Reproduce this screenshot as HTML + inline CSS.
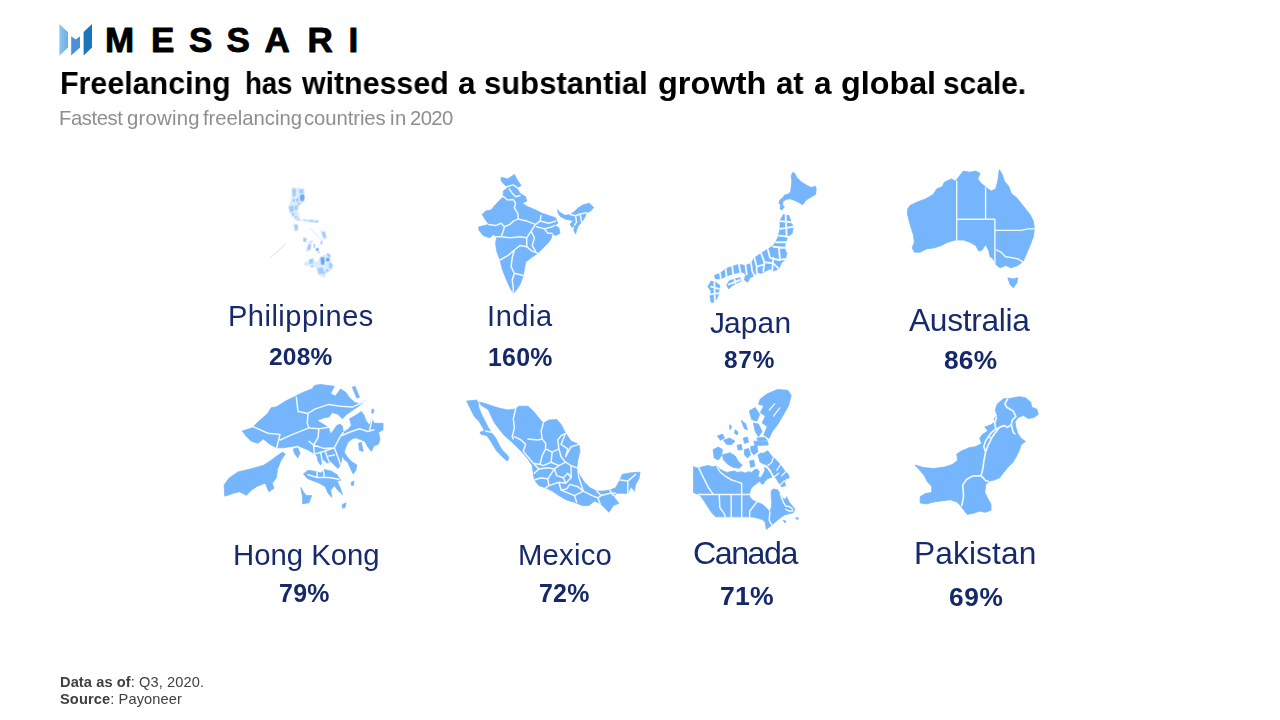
<!DOCTYPE html>
<html><head><meta charset="utf-8"><title>Messari</title>
<style>
html,body{margin:0;padding:0;background:#fff;}
body{width:1280px;height:720px;position:relative;overflow:hidden;font-family:"Liberation Sans",sans-serif;}
.t{position:absolute;white-space:nowrap;line-height:1;margin:0;transform-origin:0 0;will-change:transform;}
.h1{left:61px;top:67px;font-size:31px;font-weight:bold;color:#000;}
.sub{left:60px;top:108px;font-size:19px;color:#8e8e8e;}
.c{color:#172b6c;font-size:29px;}
.p{color:#14286a;font-size:24px;font-weight:bold;}
.f{color:#404040;font-size:14.5px;}
svg{position:absolute;left:0;top:0;}
.wrap{margin:0;padding:0;font-size:0;line-height:0;font-weight:normal;}
</style></head><body>
<svg width="1280" height="720" viewBox="0 0 1280 720">
<defs>
<linearGradient id="g1" x1="0" y1="0" x2="1" y2="0"><stop offset="0" stop-color="#8ec6ee"/><stop offset="1" stop-color="#6aaee2"/></linearGradient>
</defs>
<polygon points="59.4,23.9 68,32.2 68,47.6 59.4,55.8" fill="url(#g1)"/>
<polygon points="71.2,36.3 75.7,39.6 80,36.3 80,47.6 71.2,55.6" fill="#4a90d6"/>
<polygon points="83.6,32 92,23.9 92,47.6 83.6,55.6" fill="#1c75bc"/>
<g font-family="Liberation Sans, sans-serif" font-weight="bold" font-size="35" fill="#000" stroke="#000" stroke-width="0.9" stroke-linejoin="round">
<text id="lM" x="105" y="52">M</text>
<text id="lE" x="151" y="52">E</text>
<text id="lS1" x="189" y="52">S</text>
<text id="lS2" x="226.5" y="52">S</text>
<text id="lA" x="264.5" y="52">A</text>
<text id="lR" x="307.5" y="52">R</text>
<text id="lI" x="348.5" y="52">I</text>
</g>
<path class="india" d="M501.1 177.3L507.8 178.9L514.4 174.4L517.3 180.0L521.1 185.6L516.7 187.8L520.0 193.3L525.6 196.7L526.7 201.1L522.2 203.3L527.8 206.7L535.6 210.0L542.2 213.3L548.9 215.6L555.6 217.8L557.8 223.3L554.4 225.6L558.9 227.8L560.0 233.3L555.6 235.6L552.2 233.3L551.1 238.9L547.8 243.3L543.3 247.8L537.8 253.3L531.1 257.8L525.6 262.2L524.4 268.9L523.3 275.6L520.0 284.4L515.6 291.1L513.3 293.3L510.0 287.8L505.6 277.8L502.2 268.9L500.0 260.0L496.7 251.1L495.6 243.3L496.7 236.7L493.3 234.4L490.0 237.8L483.3 235.6L478.9 230.0L478.9 226.7L484.4 225.6L488.9 224.4L485.6 220.0L482.2 214.4L485.6 211.1L491.1 210.0L495.6 204.4L500.0 200.0L503.3 196.7L503.3 191.1L507.8 187.8L504.4 184.4L501.1 181.1Z M557.6 209.5L559.4 212.2L564.8 215.3L570.2 214.6L574.7 211.3L578.3 207.7L582.8 205.0L589.2 203.2L593.7 207.4L590.6 211.0L586.5 212.8L584.7 217.7L581.6 222.2L578.3 225.8L576.5 230.3L575.6 233.9L573.8 230.3L574.7 224.9L572.0 227.6L570.2 224.3L573.3 220.4L569.3 220.0L564.8 218.9L560.3 216.4L558.1 213.1Z" fill="#74b5fb" stroke="#74b5fb" stroke-width="0.8" stroke-linejoin="round" opacity="1"/>
<path d="M506.7 186.7L513.3 184.9L518.2 188.4 M509.3 188.9L512.2 193.3L515.6 196.7L520.0 195.6 M503.3 196.7L507.8 200.0L513.3 199.6L515.6 203.3L514.4 207.8L517.8 213.3L518.2 218.9L513.3 221.1L510.0 224.4L504.4 226.7L503.3 231.1 M518.2 218.9L526.7 221.1L535.6 224.4L540.0 221.1L541.1 215.6 M488.9 224.4L495.6 225.6L501.1 223.3L504.4 226.7 M503.3 231.1L501.1 236.7L511.1 237.8L520.0 236.7L526.7 237.8L531.1 231.1L535.6 224.4 M500.0 260.0L507.8 255.6L514.4 250.0L520.0 245.6L526.7 246.7L526.7 237.8 M531.1 231.1L534.4 237.8L532.2 245.6L535.6 251.1 M540.0 221.1L548.9 223.3L555.6 221.1 M536.7 226.7L544.4 228.9L552.2 226.7L554.4 225.6 M544.4 228.9L547.8 233.3L552.2 233.3 M526.7 246.7L532.2 251.1L537.8 253.3 M514.4 250.0L512.2 257.8L511.1 266.7L514.4 273.3L523.3 275.6 M514.4 273.3L512.2 280.0L513.3 287.8L513.3 293.3 M501.1 236.7L496.7 236.7 M570.2 214.6L575.6 215.8L580.1 214.0L586.5 212.8 M575.6 215.8L576.5 222.2L574.7 224.9 M580.1 214.0L581.6 222.2" fill="none" stroke="#f1f8ff" stroke-width="1.5" stroke-linejoin="round" stroke-linecap="round"/>
<path class="japan" d="M783.3 214.4L788.9 215.6L791.1 222.2L793.3 226.7L792.2 233.3L787.8 236.7L785.6 242.2L784.4 247.8L786.7 253.3L785.6 258.9L781.1 263.3L778.9 268.9L773.3 271.1L770.0 268.9L765.6 271.1L761.1 273.3L756.7 272.2L754.4 275.6L750.0 277.8L747.8 282.2L744.4 280.0L745.6 274.4L742.7 272.2L736.0 273.1L730.4 274.7L725.6 276.4L721.1 278.7L715.6 278.9L714.4 275.6L720.0 273.3L725.6 268.9L732.2 266.2L738.9 264.4L745.6 265.6L751.1 263.3L754.4 257.8L761.1 253.3L767.8 248.9L773.3 245.6L777.8 237.8L780.0 228.9L780.0 221.1Z M728.9 281.1L734.4 278.9L740.0 277.8L741.1 281.1L736.7 283.3L732.2 285.6L728.9 288.9L726.7 285.6Z M711.1 281.1L715.6 282.2L720.0 285.6L718.9 291.1L717.8 296.7L714.4 302.2L711.1 302.2L710.0 296.7L711.1 291.1L707.8 286.7Z" fill="#74b5fb" stroke="#74b5fb" stroke-width="0.8" stroke-linejoin="round" opacity="1"/>
<path d="M780.0 221.1L791.1 222.2 M780.0 228.9L793.3 226.7 M778.9 235.6L788.9 236.7 M785.6 214.4L786.7 236.7 M775.6 242.2L785.6 242.2 M773.3 246.7L784.4 247.8 M767.8 248.9L770.0 257.8L778.9 260.0L785.6 258.9 M778.9 247.8L780.0 260.0 M761.1 253.3L764.4 262.2L763.3 271.1 M764.4 262.2L773.3 263.3L778.9 268.9 M773.3 257.8L772.2 271.1 M754.4 257.8L756.7 266.7L756.7 272.2 M756.7 266.7L764.4 264.4 M751.1 263.3L752.2 271.1L754.4 275.6 M745.6 265.6L746.7 274.4 M738.9 264.4L740.7 273.8 M732.2 266.2L733.3 276.7 M725.6 268.9L726.7 277.8 M720.0 273.3L721.1 280.0 M734.4 278.9L735.6 283.8 M728.9 284.4L740.0 280.0 M711.1 286.7L718.9 288.9 M710.4 294.4L718.4 293.3 M714.4 282.2L714.9 302.2" fill="none" stroke="#f1f8ff" stroke-width="1.9" stroke-linejoin="round" stroke-linecap="round"/>
<path class="australia" d="M907.8 208.9L910.0 205.6L916.7 202.2L925.6 198.9L933.3 194.4L936.7 188.9L942.2 186.7L944.4 182.2L951.1 178.9L955.6 181.1L958.9 176.7L963.3 171.1L970.0 172.2L975.6 171.1L980.0 173.3L977.8 178.9L981.1 183.3L986.7 187.8L991.1 191.1L995.6 188.9L997.8 181.1L999.3 169.6L1002.2 174.4L1004.4 181.1L1008.9 186.7L1011.1 193.3L1016.7 197.8L1021.1 203.3L1025.6 208.9L1030.0 214.4L1033.3 221.1L1034.4 228.9L1033.3 236.7L1030.0 245.6L1026.7 253.3L1023.3 261.1L1017.8 265.6L1011.1 267.8L1005.6 265.6L1000.0 267.8L995.6 264.4L993.3 258.9L990.0 256.7L988.9 251.1L985.6 244.4L982.2 250.0L978.9 251.1L975.6 245.6L970.0 242.2L963.3 240.0L955.6 240.0L947.8 242.2L941.1 245.6L934.4 247.8L926.7 248.9L920.0 252.2L914.4 252.2L912.2 247.8L914.4 242.2L913.3 234.4L911.1 227.8L908.9 220.0L907.3 213.3Z M1007.8 277.8L1013.3 278.9L1017.8 277.8L1016.7 283.3L1013.3 287.8L1010.0 284.4Z" fill="#74b5fb" stroke="#74b5fb" stroke-width="0.8" stroke-linejoin="round" opacity="1"/>
<path d="M956.7 181.1L956.7 240.0 M956.7 219.3L994.9 219.3 M985.6 187.8L985.6 219.3 M994.9 219.3L994.9 264.4 M994.9 230.4L1021.1 230.4L1027.8 228.9L1034.4 228.9 M996.7 250.0L1001.1 252.2L1005.6 256.7L1012.2 257.8L1017.8 258.9L1023.3 262.2" fill="none" stroke="#f1f8ff" stroke-width="1.4" stroke-linejoin="round" stroke-linecap="round"/>
<path class="hongkong" d="M242.2 431.1L252.2 427.8L257.8 422.2L267.8 413.3L271.1 407.8L276.7 406.7L285.6 401.1L294.4 396.7L303.3 392.2L312.2 388.9L314.4 385.4L320.7 384.5L334.3 386.3L330.6 393.5L335.2 396.3L340.6 389.0L346.0 392.6L349.6 398.1L355.0 402.6L359.5 403.5L365.0 400.8L358.6 406.2L353.2 409.8L346.9 414.3L342.4 418.8L337.9 414.3L332.4 412.5L328.8 417.0L323.4 417.9L317.1 420.6L323.4 424.3L328.8 427.9L330.6 434.2L333.3 430.6L337.0 425.2L340.6 424.3L342.4 426.1L343.3 432.4L348.7 428.8L351.4 425.2L349.6 418.8L355.9 415.2L361.3 411.6L364.1 415.2L365.9 420.6L369.5 425.2L372.2 418.8L374.0 423.3L383.0 423.3L383.0 429.7L378.5 432.4L380.0 439.6L378.5 444.1L374.0 445.9L371.3 451.3L367.7 446.8L365.0 441.4L360.4 439.6L355.9 437.8L352.3 438.7L347.8 442.3L346.0 446.8L344.2 452.2L347.8 457.7L352.3 462.2L356.8 464.9L355.9 470.3L353.2 473.9L350.5 468.5L347.8 462.2L344.2 459.5L342.4 455.9L340.6 464.9L337.9 468.5L334.3 464.9L330.6 461.3L327.0 463.1L323.4 459.5L320.7 464.9L318.0 461.3L317.1 455.9L311.7 452.2L307.2 449.5L302.6 447.7L297.8 445.6L290.0 446.7L283.3 447.8L276.7 447.8L270.0 444.4L263.3 438.9L257.8 443.3L251.1 441.1L246.7 436.7Z M224.1 484.9L229.2 478.0L237.8 472.1L251.6 468.7L263.6 465.3L270.5 460.8L277.4 455.6L282.5 452.2L285.3 453.9L280.8 460.8L277.4 469.4L276.3 478.0L272.2 483.1L273.9 488.3L268.8 491.7L265.3 483.1L256.7 486.6L251.6 490.0L246.4 495.2L239.5 491.7L232.7 493.4L224.8 496.2Z M303.5 473.9L308.1 470.3L314.4 471.2L320.7 473.0L324.3 469.4L331.5 471.2L337.0 474.8L340.6 480.2L337.0 481.1L339.7 486.6L342.4 494.7L337.9 490.2L334.3 485.7L330.6 490.2L331.9 497.4L327.9 492.9L325.2 486.6L318.9 483.0L311.7 480.2L307.2 478.4Z M300.8 487.5L303.5 492.0L306.3 495.6L311.7 495.6L309.0 502.8L302.6 503.7L302.6 497.4Z M293.3 448.9L297.8 447.8L300.0 453.3L297.8 457.8L294.4 453.3Z M352.3 387.2L355.0 386.3L359.5 397.2L356.8 398.1Z M372.2 408.9L374.0 409.8L373.1 413.4L371.6 412.5Z M351.4 482.1L354.1 481.1L353.2 485.7L351.1 485.1Z M342.4 504.6L346.0 502.8L345.1 507.3L342.4 508.2Z M358.6 443.2L361.3 442.3L363.2 451.3L359.5 450.4Z" fill="#74b5fb" stroke="#74b5fb" stroke-width="0.8" stroke-linejoin="round" opacity="1"/>
<path d="M253.3 426.7L267.8 433.3L280.0 434.4L276.7 447.8 M296.3 397.2L298.1 411.6L308.1 413.4L315.3 408.9L328.8 404.4L340.6 406.2L352.3 407.1L365.0 401.3 M308.1 413.4L307.2 423.3L309.0 427.9 M280.1 440.0L290.9 435.1L309.0 427.9L318.9 428.8L328.8 427.3 M318.9 428.8L318.0 437.8L313.5 445.0L314.4 454.1 M309.0 441.4L313.5 445.0 M313.5 445.0L324.3 448.6L334.3 447.7L340.6 436.0L343.3 432.4 M340.6 436.0L351.4 431.5L359.5 428.8L367.7 431.5L374.0 429.7 M334.3 447.7L338.8 459.5L340.6 464.9 M314.4 454.1L324.3 451.3L334.3 447.7 M320.7 452.2L322.5 463.1 M325.2 451.3L328.8 461.3 M328.8 455.9L334.3 455.0 M308.1 474.8L317.1 477.5L328.8 477.5L338.8 479.3 M317.1 472.1L317.1 477.5 M323.4 470.3L324.3 477.5 M372.2 418.8L369.5 430.6" fill="none" stroke="#f1f8ff" stroke-width="1.5" stroke-linejoin="round" stroke-linecap="round"/>
<path class="mexico" d="M466.7 401.1L477.8 400.0L478.9 407.8L481.1 413.3L484.4 420.0L487.8 426.7L491.1 432.2L495.6 437.8L498.9 444.4L502.2 450.0L506.7 454.4L508.9 457.8L507.3 461.1L502.2 456.7L496.7 451.1L493.3 445.6L490.0 440.0L486.7 435.6L481.1 434.4L480.0 432.2L484.4 430.7L482.2 426.7L478.9 421.1L474.4 416.7L471.1 410.0Z M478.9 401.8L487.8 404.4L497.8 407.8L507.8 410.0L515.6 408.9L518.9 406.2L527.8 406.2L533.3 411.1L537.8 416.7L543.3 423.3L548.9 420.0L556.7 419.6L561.1 424.4L565.6 433.3L571.1 441.1L578.9 444.4L580.0 451.1L577.8 460.0L576.7 467.8L580.0 475.6L584.4 482.2L590.0 487.8L596.7 491.1L603.3 491.1L610.0 490.0L615.6 487.8L620.0 480.0L622.2 474.4L630.0 472.9L640.0 472.2L638.9 478.9L635.6 484.4L634.4 491.1L631.1 486.7L627.8 493.3L622.2 493.3L615.6 493.3L614.4 497.8L618.9 503.3L613.3 505.6L608.9 512.2L604.4 507.8L600.0 503.3L594.4 501.1L588.9 505.6L582.2 505.6L574.4 502.2L566.7 500.0L558.9 495.6L552.2 491.1L545.6 487.8L538.9 485.6L534.4 480.0L533.3 473.3L532.2 465.6L527.8 458.9L522.2 452.2L516.7 446.7L513.3 443.6L510.7 440.9L505.3 436.4L500.0 430.2L494.7 423.1L491.1 416.0L488.4 409.8L481.3 405.3Z" fill="#74b5fb" stroke="#74b5fb" stroke-width="0.8" stroke-linejoin="round" opacity="1"/>
<path d="M477.8 400.0L478.9 401.8 M485.6 431.1L491.1 432.2 M515.6 408.9L513.3 418.9L514.4 427.8L512.2 436.7L513.3 438.9 M514.4 436.7L521.1 440.0L525.6 444.4L523.3 451.1 M543.3 423.3L541.1 431.1L542.2 438.9L545.6 443.3L545.6 448.9 M527.8 438.9L537.8 440.0L542.2 438.9 M523.3 451.1L526.7 455.6L533.3 463.3L540.0 464.4L542.2 455.6L545.6 448.9 M545.6 448.9L552.2 452.2L558.9 448.9L557.8 440.0L561.1 435.6L565.6 433.3 M558.9 448.9L561.1 456.7L565.6 462.2L571.1 465.6L576.7 467.8 M565.6 433.3L561.1 444.4L567.8 448.9L565.6 456.7L571.1 446.7L578.9 444.4 M552.2 452.2L551.1 462.2L543.3 465.6L540.0 464.4 M551.1 462.2L558.9 465.6L565.6 462.2 M533.3 463.3L538.9 468.9L534.4 473.3 M538.9 468.9L547.8 467.8L554.4 468.9L558.9 465.6 M534.4 480.0L541.1 477.8L547.8 478.9L554.4 468.9 M547.8 478.9L548.9 485.6L545.6 487.8 M548.9 485.6L558.9 482.2L565.6 483.3L571.1 477.8L571.1 465.6 M554.4 468.9L556.7 475.6L563.3 477.8L565.6 483.3 M563.3 477.8L567.8 473.3L571.1 477.8 M558.9 482.2L561.1 490.0L566.7 488.9L570.0 484.4 M561.1 490.0L574.4 495.6L576.7 502.2 M570.0 484.4L577.8 486.7L583.3 491.1L574.4 495.6 M577.8 467.8L578.9 477.8L583.3 491.1 M583.3 491.1L592.2 495.6L597.8 497.8L600.0 503.3 M596.7 491.1L601.1 495.6L597.8 497.8 M601.1 495.6L610.0 493.3L615.6 493.3 M610.0 490.0L612.2 494.4L615.6 496.7 M620.0 480.0L627.8 481.1L635.6 474.4 M627.8 481.1L627.8 493.3" fill="none" stroke="#f1f8ff" stroke-width="1.5" stroke-linejoin="round" stroke-linecap="round"/>
<path class="canada" d="M693.5 466.8L698.3 468.2L702.5 466.8L708.1 465.4L712.2 466.8L717.1 466.1L719.9 468.9L723.3 471.0L726.8 472.4L730.3 471.7L734.4 471.0L737.2 472.4L741.4 471.7L745.6 473.1L748.3 471.7L751.8 472.4L753.9 470.3L756.7 468.9L759.4 471.7L758.1 475.8L760.1 477.9L762.2 475.8L765.0 470.3L764.3 467.5L767.1 468.9L769.9 473.1L771.9 477.2L767.8 478.6L765.0 481.4L762.2 483.5L759.4 481.4L756.7 483.5L753.9 485.6L751.1 488.3L749.7 492.5L749.7 496.7L752.5 500.1L756.7 502.2L762.2 504.3L766.4 507.8L769.9 511.9L771.2 507.8L771.9 502.2L771.2 496.7L771.2 491.1L773.3 489.0L777.5 489.7L780.3 493.9L782.4 498.1L785.8 499.4L786.5 496.7L789.3 502.2L792.1 505.7L794.9 509.2L793.5 512.6L789.3 513.8L785.8 514.4L781.7 516.8L778.2 519.6L774.7 522.4L771.9 525.1L769.2 527.2L766.4 529.3L765.7 525.8L765.0 521.7L762.2 519.6L758.1 518.2L753.9 517.2L749.7 516.8L731.7 516.8L715.7 516.8L712.2 513.3L709.4 509.2L706.7 505.0L703.9 500.8L701.8 497.4L699.7 495.3L693.5 492.5Z M765.0 452.2L767.8 450.8L771.9 456.4L776.1 459.9L780.3 464.7L784.4 470.3L788.6 475.1L789.3 477.9L785.8 478.6L784.4 482.1L785.8 485.6L781.7 486.9L778.9 482.8L776.1 478.6L773.3 474.4L771.2 470.3L767.8 466.1L763.6 463.3L760.8 461.2L760.1 457.1L762.2 454.3Z M760.8 481.4L763.6 480.7L764.3 483.5L761.5 484.2Z M795.6 517.5L799.0 518.2L796.9 519.6Z M783.1 520.3L785.8 521.0L785.1 523.1Z" fill="#74b5fb" stroke="#74b5fb" stroke-width="0.8" stroke-linejoin="round" opacity="1"/>
<path d="M698.3 494.6L751.1 494.6 M699.0 468.2L701.8 474.4L705.3 481.4L708.8 488.3L712.9 493.9 M717.1 466.8L719.9 471.7L724.7 475.8L731.7 480.0L738.6 482.1L741.7 483.5L741.7 494.6 M719.2 494.6L719.9 507.8L724.0 513.3L725.4 516.8 M731.2 494.6L731.2 516.8 M741.7 494.6L741.7 516.8 M756.7 502.2L749.7 511.2L749.7 516.8 M769.9 511.9L769.2 520.3L771.9 525.1 M780.3 493.9L783.3 502.2L785.8 506.1 M785.8 506.1L788.9 506.4L792.5 508.9 M785.8 509.4L789.3 511.2L793.1 510.8" fill="none" stroke="#f1f8ff" stroke-width="1.5" stroke-linejoin="round" stroke-linecap="round"/>
<path d="M773.3 457.8 L771.2 463.3 M780.3 464.7 L776.8 470.3 M785.8 471.7 L781.7 475.8 M767.8 465.4 L771.9 462.6 M774.7 476.5 L778.9 473.1 M780.3 484.9 L784.4 480.7" stroke="#fff" stroke-width="1.2" fill="none" stroke-linecap="round"/>
<path class="pakistan" d="M915.0 465.0L923.3 467.5L933.8 468.5L944.2 467.1L952.5 464.4L957.7 460.2L956.7 454.0L961.9 450.8L969.2 447.7L975.4 446.7L981.7 443.5L979.6 438.3L982.7 434.2L987.9 431.0L984.8 426.9L991.0 424.8L995.2 421.7L994.2 418.5L997.3 415.4L995.2 410.2L997.3 404.0L1003.5 398.8L1010.8 398.3L1019.2 396.7L1025.4 397.7L1030.6 401.9L1031.7 407.1L1036.9 409.2L1038.3 414.4L1033.8 417.5L1028.5 418.5L1023.3 415.4L1018.1 417.5L1015.0 421.7L1016.0 427.9L1018.1 434.2L1021.2 438.3L1025.4 441.5L1021.2 444.6L1019.2 450.8L1016.0 457.1L1012.9 462.3L1007.7 467.5L1003.5 472.7L999.4 477.9L994.2 480.0L990.0 481.0L985.8 484.2L984.8 492.5L987.9 498.8L991.0 504.0L991.0 510.2L985.8 512.3L979.6 511.2L973.3 513.3L967.1 514.4L964.0 510.2L960.8 506.0L956.7 501.9L950.4 499.8L942.1 500.8L933.8 501.9L926.5 504.0L920.2 502.9L920.2 496.7L925.4 493.5L931.7 492.5L931.7 486.2L927.5 482.1L924.4 475.8L919.2 469.6Z" fill="#74b5fb" stroke="#74b5fb" stroke-width="0.8" stroke-linejoin="round" opacity="1"/>
<path d="M961.8 505.3L963.6 496.1L962.7 485.1L966.4 479.6L972.8 476.0L981.0 475.6L982.9 468.6L983.8 461.3L985.6 452.1L987.5 446.6L990.2 441.1L993.0 435.6L996.6 431.1L999.4 427.4L1004.0 425.6L1007.6 427.4L1011.3 424.6L1012.2 420.1L1015.9 416.4L1013.1 410.9L1006.7 407.2L1004.9 403.6L1007.6 399.0 M985.6 452.1L983.8 446.6L985.6 441.1L988.4 436.6L991.1 432.9L995.7 429.2L999.4 427.4 M988.4 436.6L991.1 438.4L993.9 434.7 M1011.3 424.6L1013.1 432.0L1014.9 433.8 M981.0 475.6L985.6 480.5L988.4 481.5 M995.7 429.2L994.8 422.8L996.6 417.3" fill="none" stroke="#f1f8ff" stroke-width="1.7" stroke-linejoin="round" stroke-linecap="round"/>
<path class="ph_light" d="M291.7 187.6L303.9 188.4L305.0 195.3L304.4 201.4L299.4 205.2L297.8 210.5L294.8 215.1L290.2 213.6L287.9 207.5L291.0 201.4L291.7 193.7Z M293.2 223.5L297.8 224.3L298.6 229.6L295.5 231.9L293.7 228.1Z M303.9 263.2L310.8 259.4L316.9 262.4L320.7 256.3L329.1 254.0L330.6 260.9L333.7 265.5L331.4 270.1L326.1 273.1L324.5 277.7L317.7 273.9L316.1 267.8L310.8 265.5L304.7 265.5Z M320.7 230.4L325.3 231.1L326.8 238.8L323.8 239.5L322.3 235.0Z M303.2 237.3L307.0 238.0L306.2 242.6L303.2 241.8Z M308.5 241.8L311.6 242.6L310.8 248.7L307.0 251.8L306.2 248.7L308.5 245.6Z M315.4 247.9L319.2 247.9L317.7 251.0L315.4 251.0Z M290.2 212.8L297.8 211.3L300.1 218.2L299.4 221.2L295.5 220.0L292.5 217.4Z M303.2 218.9L318.4 220.0L318.7 222.7L310.8 222.4L303.9 220.9Z" fill="#74b5fb" stroke="#74b5fb" stroke-width="0.5" stroke-linejoin="round" opacity="0.25"/>
<path class="ph_mid" d="M292.5 189.2L295.5 188.9L295.5 195.3L293.2 196.8Z M299.4 189.9L303.2 189.2L302.9 193.0L299.8 193.4Z M289.4 206.7L293.2 206.0L294.0 210.5L290.2 212.1Z M294.8 206.0L297.4 205.6L297.1 209.8L295.1 209.8Z M294.8 225.0L297.4 225.0L297.5 229.6L295.2 230.1Z M308.1 244.9L310.5 244.1L310.2 249.5L307.7 250.5Z M309.3 259.4L313.5 258.6L312.6 263.2L309.6 263.7Z M317.7 268.5L322.3 267.8L323.8 273.1L319.2 273.9Z M329.1 263.2L332.2 264.0L331.4 268.5L329.1 267.8Z M326.8 253.3L329.9 254.0L330.6 257.1L327.9 256.3Z M303.9 238.0L306.2 238.8L305.5 241.4L303.6 241.1Z M321.8 231.9L324.8 232.7L325.8 237.3L323.6 237.7Z M292.2 213.3L294.0 212.8L294.2 215.1L292.3 215.6Z M295.2 216.3L296.8 215.9L296.9 217.6L295.4 218.0Z M297.4 218.6L298.7 218.2L298.9 219.5L297.5 220.0Z M310.5 220.5L312.6 220.0L312.8 220.8L310.6 221.2Z M315.8 221.4L317.4 220.9L317.5 221.7L316.0 222.1Z M310.5 241.2L312.3 240.8L312.5 241.5L310.6 242.0Z M313.5 244.3L314.8 243.8L314.9 247.6L313.7 248.1Z M317.7 251.9L319.5 251.5L319.7 252.5L317.8 253.0Z M320.7 241.2L322.3 240.8L322.4 244.0L320.9 244.4Z M296.3 198.8L298.4 198.3L298.6 201.2L296.5 201.7Z M292.8 199.5L294.6 199.1L294.8 201.4L292.9 201.8Z M297.8 203.4L299.7 202.9L299.8 204.6L298.0 205.0Z M310.8 266.0L312.9 265.5L313.1 267.2L311.0 267.6Z M326.1 269.8L328.2 269.3L328.4 271.0L326.2 271.5Z M323.0 272.1L324.5 271.6L324.7 273.6L323.2 274.0Z" fill="#74b5fb" stroke="#74b5fb" stroke-width="0.5" stroke-linejoin="round" opacity="0.55"/>
<path class="ph_dark" d="M300.4 195.0L303.5 194.5L304.4 197.6L303.5 200.6L301.0 201.1L300.1 198.0Z M320.7 257.9L323.8 257.1L324.5 260.9L323.8 264.7L321.2 264.3Z M326.1 258.2L329.1 257.9L329.4 260.9L326.4 261.2Z M316.1 249.0L318.4 248.4L318.4 250.2L316.5 250.5Z" fill="#6fa6ef" stroke="#6fa6ef" stroke-width="0.5" stroke-linejoin="round" opacity="0.95"/>
<path d="M270.3 257.9L285.6 244.1" stroke="#8fa9c9" stroke-width="0.7" opacity="0.55" fill="none"/><path d="M300 220L318 222M310 228L322 240" stroke="#74b5fb" stroke-width="0.7" opacity="0.4" fill="none"/>
<path class="japan_hk" d="M792.5 172.5L794.4 173.1L796.9 177.5L801.2 181.9L806.2 185.0L811.2 187.5L815.6 186.2L816.2 189.4L815.6 194.4L811.2 196.9L806.2 200.0L802.5 204.8L798.8 202.5L795.0 200.6L790.0 198.8L786.2 199.4L783.1 201.2L782.5 205.0L784.4 206.9L781.9 210.0L780.0 208.8L780.6 205.0L778.8 202.5L780.0 200.0L783.1 197.5L784.4 195.0L787.5 194.4L790.6 191.9L791.2 187.5L791.9 181.2L791.2 176.2Z" fill="#74b5fb" stroke="#74b5fb" stroke-width="0.8" stroke-linejoin="round" opacity="1"/>
<path class="canada_isl" d="M767.2 393.8L777.5 389.6L787.8 390.3L791.2 395.4L788.5 405.8L782.7 416.0L777.5 424.7L772.3 431.6L769.0 438.4L763.8 435.0L767.2 426.5L762.1 422.9L765.4 416.0L760.3 412.7L763.8 405.8L758.5 404.1L760.3 399.0Z M713.1 449.6L718.3 447.1L722.5 449.6L721.5 455.8L718.3 460.0L714.2 457.9Z M722.5 454.8L729.8 452.7L735.0 455.8L738.1 461.0L742.3 465.2L739.2 468.3L732.9 467.3L727.7 464.2L723.5 460.0Z M717.3 436.0L722.5 434.0L724.6 438.1L720.4 440.2Z M723.5 440.2L729.8 438.1L735.0 441.2L731.9 444.4L726.7 444.4Z M741.2 420.4L745.4 423.5L747.5 429.8L744.4 428.8Z M729.8 424.6L731.9 426.7L729.8 429.8Z M744.4 449.6L748.5 448.5L750.6 454.8L747.5 457.9L744.4 454.8Z M750.6 446.5L756.9 445.4L757.9 451.7L753.8 454.8L751.2 451.7Z M753.8 441.2L767.3 441.2L768.3 445.0L754.8 445.4Z M743.3 438.1L747.5 437.1L748.5 442.3L744.4 443.3Z M749.6 461.0L753.8 460.0L754.8 466.2L750.6 467.3Z M757.9 454.8L762.1 452.7L765.2 456.9L764.2 464.2L760.0 462.1Z M737.1 445.4L741.2 444.4L742.3 449.6L738.1 450.0Z M735.0 429.8L738.1 431.9L737.1 435.0L734.6 433.3Z M749.3 410.9L755.2 407.5L759.6 414.4L756.9 421.2L751.7 419.6Z M753.4 422.9L758.5 424.0L762.1 431.6L758.5 436.7L755.2 431.6Z M756.9 438.1L764.2 437.1L767.3 440.2L757.9 440.8Z" fill="#74b5fb" stroke="#74b5fb" stroke-width="0.8" stroke-linejoin="round" opacity="1"/>
<path d="M774.6 403.8L769.4 410.0 M779.8 407.9L773.5 416.2" fill="none" stroke="#f1f8ff" stroke-width="1.3" stroke-linejoin="round" stroke-linecap="round"/>
</svg>
<h1 class="wrap"><span class="t h1" id="h1w0" style="left:60.0px;top:68.0px;font-size:31.6px;letter-spacing:0.0px;transform:scaleX(0.9624)">Freelancing</span> <span class="t h1" id="h1w1" style="left:245.0px;top:68.0px;font-size:31.6px;letter-spacing:0.0px;transform:scaleX(0.8728)">has</span> <span class="t h1" id="h1w2" style="left:302.0px;top:68.0px;font-size:31.6px;letter-spacing:0.0px;transform:scaleX(0.9603)">witnessed</span> <span class="t h1" id="h1w3" style="left:458.0px;top:68.0px;font-size:31.6px;letter-spacing:0.0px">a</span> <span class="t h1" id="h1w4" style="left:484.1px;top:68.0px;font-size:31.6px;letter-spacing:0.0px;transform:scaleX(0.9816)">substantial</span> <span class="t h1" id="h1w5" style="left:658.0px;top:68.0px;font-size:31.6px;letter-spacing:0.0px;transform:scaleX(1.0294)">growth</span> <span class="t h1" id="h1w6" style="left:776.0px;top:68.0px;font-size:31.6px;letter-spacing:0.0px;transform:scaleX(0.9815)">at</span> <span class="t h1" id="h1w7" style="left:814.2px;top:68.0px;font-size:31.6px;letter-spacing:0.0px">a</span> <span class="t h1" id="h1w8" style="left:841.0px;top:68.0px;font-size:31.6px;letter-spacing:0.0px;transform:scaleX(1.0222)">global</span> <span class="t h1" id="h1w9" style="left:943.0px;top:68.0px;font-size:31.6px;letter-spacing:0.0px;transform:scaleX(0.9465)">scale.</span></h1>
<h2 class="wrap"><span class="t sub" id="subw0" style="left:59.0px;top:108.0px;font-size:20.3px;letter-spacing:-0.42px">Fastest</span> <span class="t sub" id="subw1" style="left:126.8px;top:108.0px;font-size:20.3px;letter-spacing:0.27px">growing</span> <span class="t sub" id="subw2" style="left:202.6px;top:108.0px;font-size:20.3px;letter-spacing:-0.02px">freelancing</span> <span class="t sub" id="subw3" style="left:303.8px;top:108.0px;font-size:20.3px;letter-spacing:-0.08px">countries</span> <span class="t sub" id="subw4" style="left:389.8px;top:108.0px;font-size:20.3px;letter-spacing:0.4px">in</span> <span class="t sub" id="subw5" style="left:409.8px;top:108.0px;font-size:20.3px;letter-spacing:-0.6px">2020</span></h2>

<div class="t c" id="c1" style="left:228.0px;top:302.0px;font-size:29.0px;letter-spacing:0.5px">Philippines</div>
<div class="t p" id="p1" style="left:268.6px;top:345.0px;font-size:24.5px;letter-spacing:0.23px">208%</div>
<div class="t c" id="c2" style="left:486.9px;top:302.0px;font-size:29.0px;letter-spacing:0.58px">India</div>
<div class="t p" id="p2" style="left:488.0px;top:345.0px;font-size:24.9px;letter-spacing:0.27px">160%</div>
<div class="wrap"><span class="t c" id="c3j" style="left:709.5px;top:308.0px;font-size:29.9px;letter-spacing:0.0px">J</span><span class="t c" id="c3" style="left:724.0px;top:308.0px;font-size:29.9px;letter-spacing:0.17px">apan</span></div>
<div class="t p" id="p3" style="left:724.0px;top:348.0px;font-size:24.4px;letter-spacing:0.76px">87%</div>
<div class="t c" id="c4" style="left:909.0px;top:305.0px;font-size:31.7px;letter-spacing:-0.31px">Australia</div>
<div class="t p" id="p4" style="left:943.6px;top:347.0px;font-size:26.3px;letter-spacing:0.2px">86%</div>
<div class="t c" id="c5" style="left:233.0px;top:540.0px;font-size:29.3px;letter-spacing:0.0px">Hong Kong</div>
<div class="t p" id="p5" style="left:279.4px;top:581.0px;font-size:24.9px;letter-spacing:0.3px">79%</div>
<div class="t c" id="c6" style="left:518.0px;top:540.0px;font-size:29.3px;letter-spacing:0.2px">Mexico</div>
<div class="t p" id="p6" style="left:539.0px;top:581.0px;font-size:24.9px;letter-spacing:0.26px">72%</div>
<div class="t c" id="c7" style="left:693.4px;top:537.0px;font-size:32.2px;letter-spacing:-1.48px">Canada</div>
<div class="t p" id="p7" style="left:720.0px;top:583.0px;font-size:26.6px;letter-spacing:0.24px">71%</div>
<div class="t c" id="c8" style="left:914.0px;top:538.0px;font-size:31.7px;letter-spacing:0.12px">Pakistan</div>
<div class="t p" id="p8" style="left:949.0px;top:584.0px;font-size:26.3px;letter-spacing:0.64px">69%</div>

<div class="t f" id="f1" style="left:59.6px;top:675.0px;font-size:14.6px;letter-spacing:0.1px"><b>Data as of</b>: Q3, 2020.</div>
<div class="t f" id="f2" style="left:59.6px;top:692.0px;font-size:14.6px;letter-spacing:0.12px"><b>Source</b>: Payoneer</div>
</body></html>
